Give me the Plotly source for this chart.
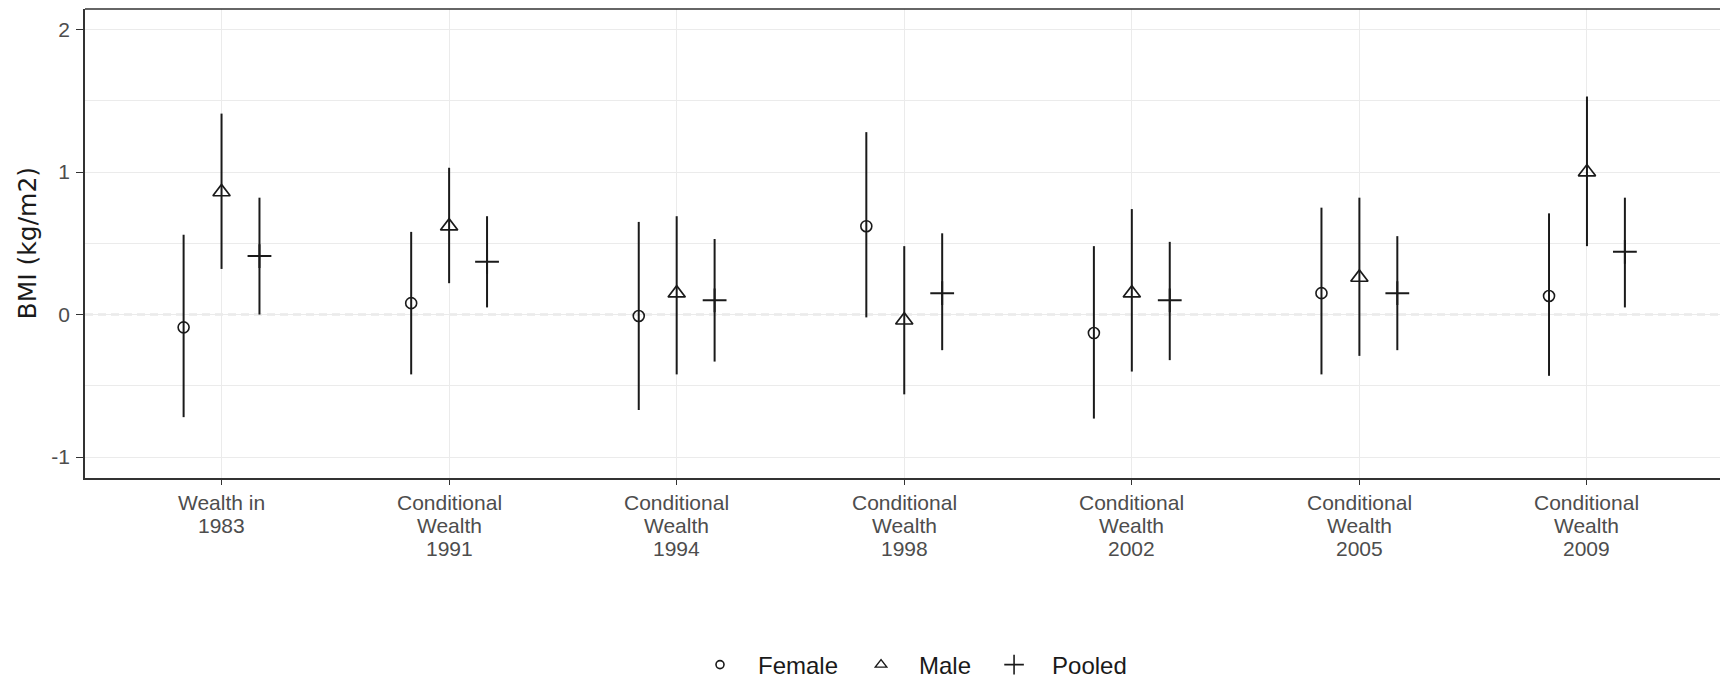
import plotly.graph_objects as go

# Predictor labels along the x axis (one entry per category, lines split on "\n")
categories = [
    "Wealth in\n1983",
    "Conditional\nWealth\n1991",
    "Conditional\nWealth\n1994",
    "Conditional\nWealth\n1998",
    "Conditional\nWealth\n2002",
    "Conditional\nWealth\n2005",
    "Conditional\nWealth\n2009",
]

# Estimates and 95% CI bounds, BMI (kg/m2)
female_est = [-0.09, 0.08, -0.01, 0.62, -0.13, 0.15, 0.13]
female_lo = [-0.72, -0.42, -0.67, -0.02, -0.73, -0.42, -0.43]
female_hi = [0.56, 0.58, 0.65, 1.28, 0.48, 0.75, 0.71]

male_est = [0.86, 0.62, 0.15, -0.04, 0.15, 0.26, 1.00]
male_lo = [0.32, 0.22, -0.42, -0.56, -0.40, -0.29, 0.48]
male_hi = [1.41, 1.03, 0.69, 0.48, 0.74, 0.82, 1.53]

pooled_est = [0.41, 0.37, 0.10, 0.15, 0.10, 0.15, 0.44]
pooled_lo = [0.00, 0.05, -0.33, -0.25, -0.32, -0.25, 0.05]
pooled_hi = [0.82, 0.69, 0.53, 0.57, 0.51, 0.55, 0.82]

y_ticks = [-1, 0, 1, 2]
y_minor = [-0.5, 0.5, 1.5]

FONT = "Liberation Sans, Arial, sans-serif"
TITLE_FONT = "DejaVu Sans, Liberation Sans, sans-serif"
INK = "#1a1a1a"
TICK_INK = "#4d4d4d"
GRID = "#ebebeb"
BORDER = "#333333"

base = list(range(1, len(categories) + 1))
dodge = 1 / 6

series = [
    ("Female", female_est, female_lo, female_hi, -dodge,
     dict(symbol="circle-open", size=11, color=INK, line=dict(color=INK, width=1.6)),
     dict(symbol="circle-open", size=8, color=INK, line=dict(color=INK, width=1.6))),
    ("Male", male_est, male_lo, male_hi, 0.0,
     dict(symbol="triangle-up-open", size=15, color=INK, line=dict(color=INK, width=1.7)),
     dict(symbol="triangle-up-open", size=10, color=INK, line=dict(color=INK, width=1.4))),
    ("Pooled", pooled_est, pooled_lo, pooled_hi, dodge,
     dict(symbol="cross-thin-open", size=17, color=INK, line=dict(color=INK, width=2)),
     dict(symbol="cross-thin-open", size=14, color=INK, line=dict(color=INK, width=1.6))),
]

fig = go.Figure()

for name, est, lo, hi, off, mk, legend_mk in series:
    xs = [b + off for b in base]
    fig.add_trace(go.Scatter(
        x=xs, y=est, mode="markers", name=name, showlegend=False,
        marker=mk,
        error_y=dict(
            type="data", symmetric=False,
            array=[h - e for h, e in zip(hi, est)],
            arrayminus=[e - l for e, l in zip(est, lo)],
            width=0, thickness=2, color=INK,
        ),
    ))
    # legend key without the interval line
    fig.add_trace(go.Scatter(
        x=[None], y=[None], mode="markers", name=name,
        marker=legend_mk, showlegend=True,
    ))

# dashed reference line at zero
fig.add_shape(type="line", xref="paper", yref="y", x0=0, x1=1, y0=0, y1=0,
              line=dict(color="#bdbdbd", width=1.6, dash="8px,5px"), layer="between")
# top edge of the panel
fig.add_shape(type="line", xref="paper", yref="paper", x0=0, x1=1, y0=1, y1=1,
              line=dict(color=BORDER, width=1.6), layer="above")

# category labels under each tick, with tight line spacing
LINE_GAP = 23.3
for xv, label in zip(base, categories):
    for j, line in enumerate(label.split("\n")):
        fig.add_annotation(
            text=line, x=xv, xref="x", y=0, yref="paper",
            xanchor="center", yanchor="middle", yshift=-(24 + j * LINE_GAP),
            showarrow=False, font=dict(family=FONT, size=21, color=TICK_INK),
        )

# y-axis title
fig.add_annotation(text="BMI (kg/m2)", xref="paper", yref="paper", x=0, y=0.5,
                   xanchor="center", yanchor="middle", xshift=-58, textangle=-90,
                   showarrow=False, font=dict(family=TITLE_FONT, size=25, color=INK))

fig.update_layout(
    template="none",
    width=1720, height=678,
    margin=dict(l=85, r=0, t=9, b=200, autoexpand=False),
    paper_bgcolor="white", plot_bgcolor="white",
    font=dict(family=FONT, color=INK),
    showlegend=True,
    legend=dict(
        orientation="h", xref="container", yref="container",
        x=907 / 1720, xanchor="center", y=1 - 665 / 678, yanchor="middle",
        font=dict(family=FONT, size=24, color=INK),
        itemwidth=66, bgcolor="rgba(0,0,0,0)", borderwidth=0,
    ),
    xaxis=dict(
        automargin=False,
        range=[0.4, 0.4 + (1720 - 85) / 227.57],
        tickmode="array", tickvals=base, showticklabels=False,
        showgrid=True, gridcolor=GRID, gridwidth=1.2,
        zeroline=False,
        showline=True, linecolor=BORDER, linewidth=1.6,
        ticks="outside", ticklen=5, tickwidth=1.4, tickcolor=BORDER,
    ),
    yaxis=dict(
        automargin=False,
        range=[-1.147, 2.144],
        tickmode="array", tickvals=y_ticks, ticktext=[str(v) for v in y_ticks],
        showgrid=True, gridcolor=GRID, gridwidth=1.2,
        minor=dict(tickmode="array", tickvals=y_minor, showgrid=True,
                   gridcolor=GRID, gridwidth=1.2, ticks=""),
        zeroline=False,
        showline=True, linecolor=BORDER, linewidth=1.6,
        ticks="outside", ticklen=7, tickwidth=1.4, tickcolor=BORDER,
        ticklabelstandoff=2,
        tickfont=dict(family=FONT, size=21, color=TICK_INK),
    ),
)

fig.write_html("out.html")
